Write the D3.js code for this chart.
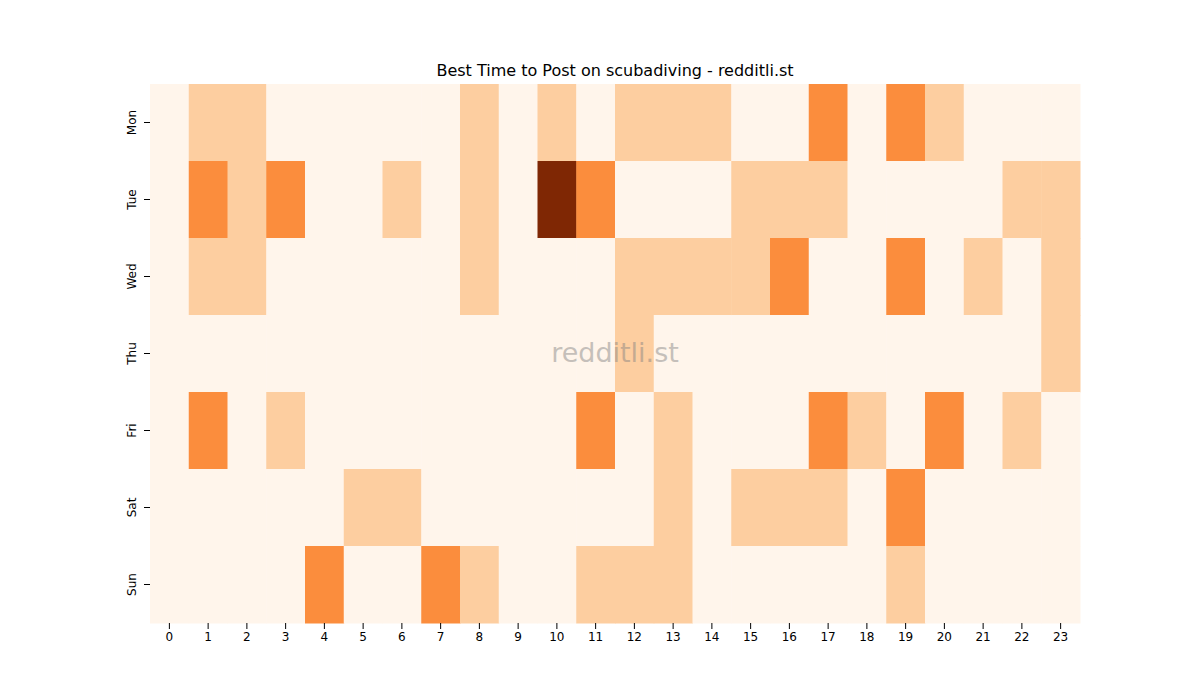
<!DOCTYPE html>
<html>
<head>
<meta charset="utf-8">
<script src="https://cdn.jsdelivr.net/npm/d3@7"></script>
<style>
  body { margin: 0; background: #fff; font-family: "DejaVu Sans", sans-serif; }
</style>
</head>
<body>
<div id="myPlot"></div>
<script>
// Set Dimensions
const width = 1200;
const height = 700;
const plotLeft = 150, plotRight = 1080, plotTop = 84, plotBottom = 623;

// Data
const days = ["Mon", "Tue", "Wed", "Thu", "Fri", "Sat", "Sun"];
const hours = d3.range(24);
const mon = [0,1,1,0,0,0,0,0,1,0,1,0,1,1,1,0,0,2,0,2,1,0,0,0];
const tue = [0,2,1,2,0,0,1,0,1,0,4,2,0,0,0,1,1,1,0,0,0,0,1,1];
const wed = [0,1,1,0,0,0,0,0,1,0,0,0,1,1,1,1,2,0,0,2,0,1,0,1];
const thu = [0,0,0,0,0,0,0,0,0,0,0,0,1,0,0,0,0,0,0,0,0,0,0,1];
const fri = [0,2,0,1,0,0,0,0,0,0,0,2,0,1,0,0,0,2,1,0,2,0,1,0];
const sat = [0,0,0,0,0,1,1,0,0,0,0,0,0,1,0,1,1,1,0,2,0,0,0,0];
const sun = [0,0,0,0,2,0,0,2,1,0,0,1,1,1,0,0,0,0,0,1,0,0,0,0];
const rows = [mon, tue, wed, thu, fri, sat, sun];

const cells = [];
rows.forEach((r, i) => r.forEach((v, h) => cells.push({ day: days[i], hour: h, value: v })));

const svg = d3.select("#myPlot")
  .append("svg")
  .attr("width", width)
  .attr("height", height);

const x = d3.scaleBand().domain(hours).range([plotLeft, plotRight]);
const y = d3.scaleBand().domain(days).range([plotTop, plotBottom]);
const color = d3.scaleSequential(d3.interpolateOranges).domain([0, 4]);

// Cells
svg.append("g")
  .selectAll("rect")
  .data(cells)
  .enter()
  .append("rect")
  .attr("x", d => x(d.hour))
  .attr("y", d => y(d.day))
  .attr("width", x.bandwidth() + 0.5)
  .attr("height", y.bandwidth() + 0.5)
  .attr("fill", d => color(d.value));

// Axes
const xAxis = svg.append("g")
  .attr("transform", `translate(0, ${plotBottom})`)
  .call(d3.axisBottom(x).tickSizeOuter(0));
xAxis.select(".domain").remove();
xAxis.selectAll("text").style("font-size", "12px").style("font-family", "DejaVu Sans").attr("fill", "#000");
xAxis.selectAll("line").attr("stroke", "#000");

const yAxis = svg.append("g")
  .attr("transform", `translate(${plotLeft}, 0)`)
  .call(d3.axisLeft(y).tickSizeOuter(0));
yAxis.select(".domain").remove();
yAxis.selectAll("line").attr("stroke", "#000");
yAxis.selectAll("text")
  .style("font-size", "12px")
  .style("font-family", "DejaVu Sans")
  .attr("fill", "#000")
  .attr("x", null).attr("dy", null)
  .attr("text-anchor", "middle")
  .attr("transform", "translate(-14,0) rotate(-90)");

// Title
svg.append("text")
  .attr("x", (plotLeft + plotRight) / 2)
  .attr("y", 76)
  .attr("text-anchor", "middle")
  .style("font-size", "16px")
  .text("Best Time to Post on scubadiving - redditli.st");

// Watermark
svg.append("text")
  .attr("x", (plotLeft + plotRight) / 2)
  .attr("y", 362)
  .attr("text-anchor", "middle")
  .style("font-size", "27px")
  .attr("fill", "#808080")
  .attr("opacity", 0.45)
  .text("redditli.st");
</script>
</body>
</html>
